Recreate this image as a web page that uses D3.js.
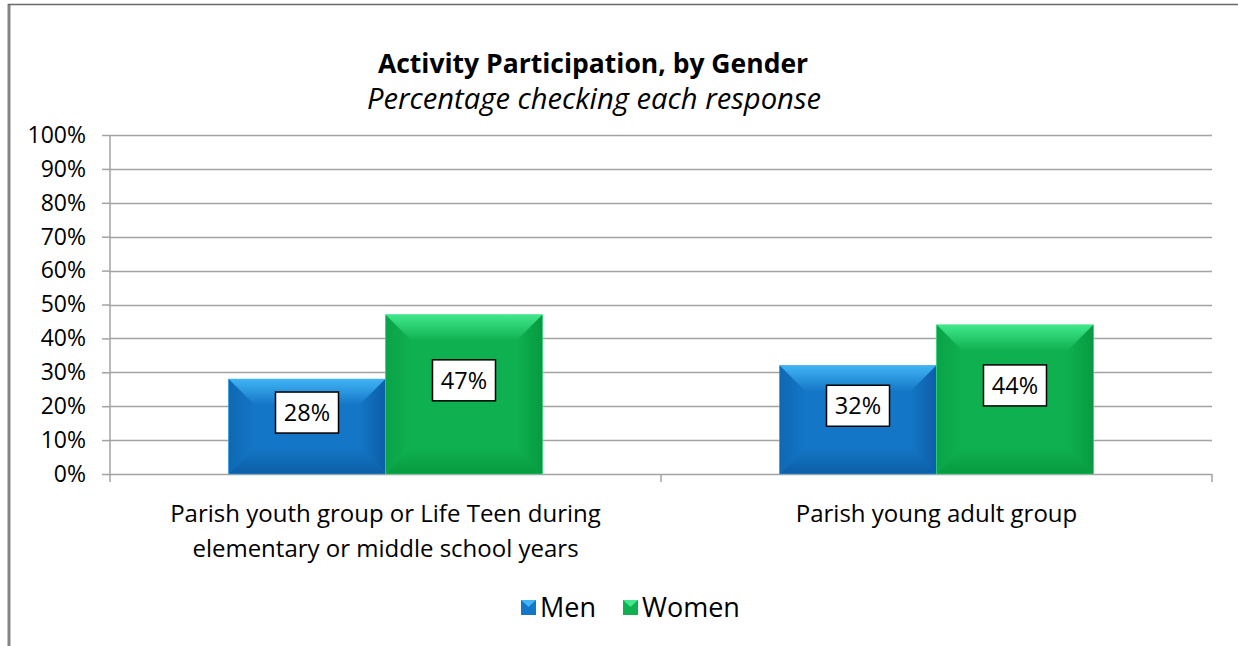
<!DOCTYPE html>
<html><head><meta charset="utf-8">
<script src="https://cdn.jsdelivr.net/npm/d3@7"></script>
<style>
html,body{margin:0;padding:0;background:#fff;}
svg{display:block;font-family:"Open Sans",Lato,sans-serif;}
</style></head>
<body><svg id="c" width="1238" height="646"></svg>
<script>
const categories = [
  ["Parish youth group or Life Teen during", "elementary or middle school years"],
  ["Parish young adult group"]
];
const seriesNames = ["Men", "Women"];
const men = [0.28, 0.32];
const women = [0.47, 0.44];
const yTicks = [0,0.1,0.2,0.3,0.4,0.5,0.6,0.7,0.8,0.9,1.0];
const title = "Activity Participation, by Gender";
const subtitle = "Percentage checking each response";

const colors = {
  Men:   {main:"#1476c6", light:"#40b4f4", dark:"#0c5ea6", side:"#0f68b4"},
  Women: {main:"#0fb04f", light:"#40e88c", dark:"#079a40", side:"#0aa348"}
};

const svg = d3.select("#c");
const W = 1238, H = 646;
const pLeft = 110, pRight = 1212, pTop = 135, pBottom = 474;
const FONT = "'Open Sans',Lato,sans-serif";

// border
svg.append("line").attr("x1",9).attr("x2",9).attr("y1",4).attr("y2",H).attr("stroke","#858585").attr("stroke-width",3);
svg.append("line").attr("x1",8).attr("x2",W).attr("y1",4.5).attr("y2",4.5).attr("stroke","#6a6a6a").attr("stroke-width",1.5);

// titles
svg.append("text").attr("x",593).attr("y",73).attr("text-anchor","middle")
  .attr("font-weight","bold").attr("font-size",26.5).attr("fill","#000").text(title);
svg.append("text").attr("x",594).attr("y",108.5).attr("text-anchor","middle")
  .attr("font-style","italic").attr("font-size",29.2).attr("fill","#000").text(subtitle);

const y = d3.scaleLinear().domain([0,1]).range([pBottom, pTop]);
const x0 = d3.scaleBand().domain(d3.range(categories.length)).range([pLeft, pRight]).padding(0);
const x1 = d3.scaleBand().domain(seriesNames).range([0, x0.bandwidth()]).paddingInner(0).paddingOuter(0.755);

// gridlines
svg.append("g").selectAll("line").data(yTicks.filter(d=>d>0)).join("line")
  .attr("x1",pLeft).attr("x2",pRight).attr("y1",d=>Math.round(y(d))+0.5).attr("y2",d=>Math.round(y(d))+0.5)
  .attr("stroke","#a3a3a3").attr("stroke-width",1.5);

// y axis
const yAxis = d3.axisLeft(y).tickValues(yTicks).tickFormat(d3.format(".0%")).tickSize(8).tickPadding(16);
const gy = svg.append("g").attr("transform",`translate(${pLeft},0)`).call(yAxis);
gy.selectAll("line").attr("stroke","#a3a3a3").attr("stroke-width",1.5);
gy.select(".domain").attr("stroke","#a3a3a3").attr("stroke-width",1.5).attr("d",`M0,${pTop}V${pBottom}`);
gy.selectAll("text").attr("font-size",23).attr("fill","#000").attr("font-family",FONT);

// defs gradients
const defs = svg.append("defs");
seriesNames.forEach(s=>{
  const c = colors[s];
  const gt = defs.append("linearGradient").attr("id","top"+s).attr("x1",0).attr("y1",0).attr("x2",0).attr("y2",1);
  gt.append("stop").attr("offset",0).attr("stop-color",c.light);
  gt.append("stop").attr("offset",1).attr("stop-color",c.main);
  const gb = defs.append("linearGradient").attr("id","bot"+s).attr("x1",0).attr("y1",0).attr("x2",0).attr("y2",1);
  gb.append("stop").attr("offset",0).attr("stop-color",c.main);
  gb.append("stop").attr("offset",1).attr("stop-color",c.dark);
  const gl = defs.append("linearGradient").attr("id","lft"+s).attr("x1",0).attr("y1",0).attr("x2",1).attr("y2",0);
  gl.append("stop").attr("offset",0).attr("stop-color",c.side);
  gl.append("stop").attr("offset",1).attr("stop-color",c.main);
  const gr = defs.append("linearGradient").attr("id","rgt"+s).attr("x1",0).attr("y1",0).attr("x2",1).attr("y2",0);
  gr.append("stop").attr("offset",0).attr("stop-color",c.main);
  gr.append("stop").attr("offset",1).attr("stop-color",c.dark);
});

// x axis line + ticks
svg.append("line").attr("x1",pLeft).attr("x2",pRight).attr("y1",pBottom+0.5).attr("y2",pBottom+0.5)
  .attr("stroke","#a3a3a3").attr("stroke-width",1.5);
const bounds = d3.range(categories.length+1).map(i=> i<categories.length ? x0(i) : x0(i-1)+x0.bandwidth());
svg.append("g").selectAll("line").data(bounds).join("line")
  .attr("x1",d=>d).attr("x2",d=>d).attr("y1",pBottom).attr("y2",pBottom+8)
  .attr("stroke","#a3a3a3").attr("stroke-width",1.5);

// bars
const data = [];
categories.forEach((c,i)=>{
  data.push({cat:i, s:"Men", v:men[i]});
  data.push({cat:i, s:"Women", v:women[i]});
});
const bars = svg.append("g").selectAll("g").data(data).join("g");
bars.each(function(d){
  const g = d3.select(this);
  const bx = x0(d.cat) + x1(d.s), bw = x1.bandwidth();
  const by = y(d.v), bh = y(0) - y(d.v);
  const b = Math.min(26, bh/2, bw/2);
  const c = colors[d.s];
  g.append("rect").attr("x",bx).attr("y",by).attr("width",bw).attr("height",bh).attr("fill",c.main);
  const x2 = bx+bw, y2 = by+bh;
  g.append("polygon").attr("points",[[bx,by],[x2,by],[x2-b,by+b],[bx+b,by+b]].join(" ")).attr("fill",`url(#top${d.s})`);
  g.append("polygon").attr("points",[[bx,by],[bx+b,by+b],[bx+b,y2-b],[bx,y2]].join(" ")).attr("fill",`url(#lft${d.s})`);
  g.append("polygon").attr("points",[[x2,by],[x2-b,by+b],[x2-b,y2-b],[x2,y2]].join(" ")).attr("fill",`url(#rgt${d.s})`);
  g.append("polygon").attr("points",[[bx,y2],[bx+b,y2-b],[x2-b,y2-b],[x2,y2]].join(" ")).attr("fill",`url(#bot${d.s})`);
  g.append("rect").attr("x",bx).attr("y",by).attr("width",bw).attr("height",bh).attr("fill","none")
    .attr("stroke",c.light).attr("stroke-opacity",0.5).attr("stroke-width",1);
  // label
  const cx = bx + bw/2, cy = (by + y2)/2 - 14;
  g.append("rect").attr("x",cx-31.5).attr("y",cy-20.5).attr("width",63).attr("height",41)
    .attr("fill","#fff").attr("stroke","#000").attr("stroke-width",1.5);
  g.append("text").attr("x",cx).attr("y",cy+8.5).attr("text-anchor","middle")
    .attr("font-size",23.5).attr("fill","#000").text(d3.format(".0%")(d.v));
});

// category labels
categories.forEach((lines,i)=>{
  const t = svg.append("text").attr("text-anchor","middle").attr("font-size",24).attr("fill","#000");
  lines.forEach((ln,j)=>{
    t.append("tspan").attr("x",x0(i)+x0.bandwidth()/2).attr("y",522+j*35).text(ln);
  });
});

// legend
const leg = svg.append("g");
const legX = [521, 623];
seriesNames.forEach((s,i)=>{
  const c = colors[s];
  const lx = legX[i], ly = 600;
  leg.append("rect").attr("x",lx).attr("y",ly).attr("width",15).attr("height",15).attr("fill",c.main);
  leg.append("polygon").attr("points",[[lx,ly],[lx+15,ly],[lx+7.5,ly+7]].join(" ")).attr("fill",c.light);
  leg.append("text").attr("x",lx+19).attr("y",ly+16.5).attr("font-size",27).attr("fill","#000").text(s);
});
</script></body></html>
